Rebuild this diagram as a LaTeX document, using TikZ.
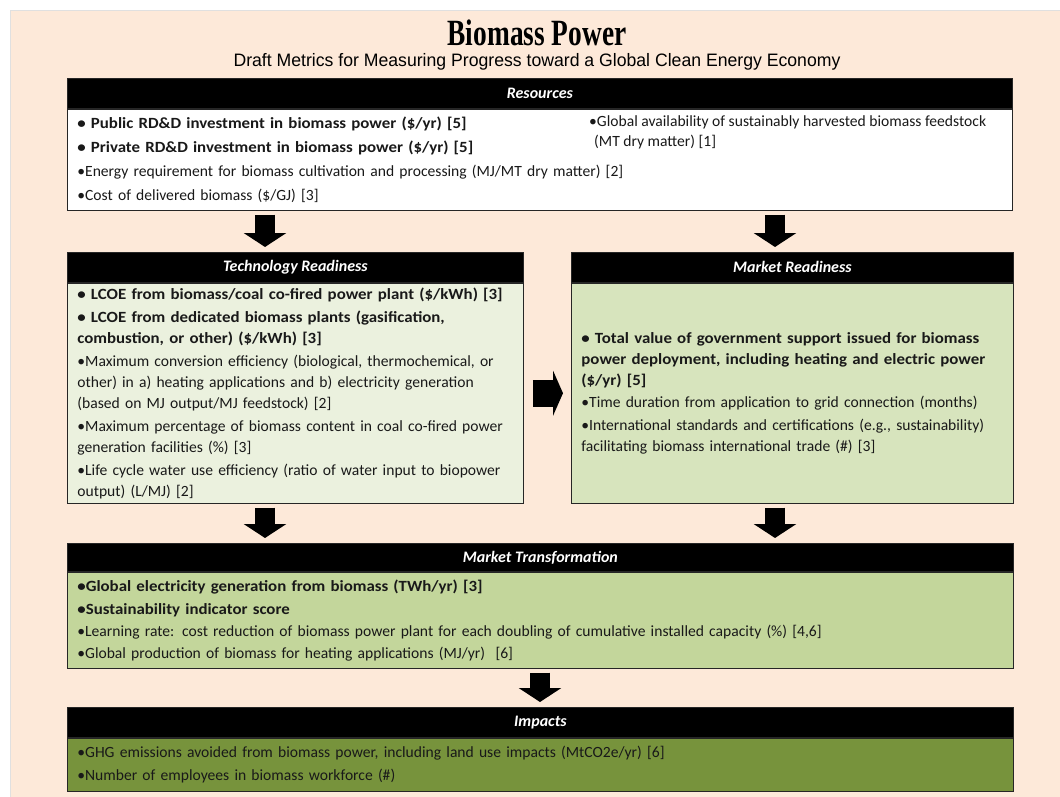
\documentclass[tikz,border=0pt]{standalone}
\usepackage{fontspec}
\setmainfont{Carlito}
\newfontfamily\itembf[FakeStretch=1.08]{Carlito}
\newfontfamily\titlefont[FakeStretch=0.74]{Liberation Serif}
\newfontfamily\subfont[FakeStretch=0.98]{Liberation Sans}
\newcommand{\bitem}[1]{{\itembf\bfseries #1}}
\usetikzlibrary{positioning,arrows.meta}
\definecolor{peach}{HTML}{FDE9D9}
\definecolor{techgreen}{HTML}{EBF1DE}
\definecolor{mrgreen}{HTML}{D7E4BD}
\definecolor{transgreen}{HTML}{C3D69B}
\definecolor{impgreen}{HTML}{77933C}
\tikzset{
  hdr/.style={draw=black!85, line width=0.8pt, fill=black, text=white, inner sep=0pt,
    minimum height=30pt, anchor=north west, font=\fontsize{16}{18}\selectfont\bfseries\itshape},
  panel/.style={draw=black!85, line width=0.8pt, inner xsep=10pt, inner ysep=2pt, align=left,
    anchor=north, text=black!90, font=\fontsize{15.6}{21}\selectfont},
  downarrow/.style={line width=20pt, -{Triangle[length=14pt, width=42pt]}, shorten <=4pt, shorten >=5pt},
  rightarrow/.style={line width=27pt, -{Triangle[length=10pt, width=45pt]}, shorten <=9pt, shorten >=8pt}
}
\begin{document}
\begin{tikzpicture}[x=1pt, y=-1pt]
  \useasboundingbox (0,0) rectangle (1060,797);
  \fill[white] (0,0) rectangle (1060,797);
  \fill[peach] (10,10) rectangle (1060,797);
  \draw[black!12] (10,797) |- (1060,10);

  % title
  \node (title) at (537,33) {\titlefont\bfseries\fontsize{37}{40}\selectfont Biomass Power};
  \node (subtitle) at (537,62) {\subfont\fontsize{18}{20}\selectfont Draft Metrics for Measuring Progress toward a Global Clean Energy Economy};

  % resources
  \node[hdr, minimum width=945pt] (resH) at (67,78) {Resources};
  \node[panel, fill=white, text width=925pt, minimum height=101pt, below=0pt of resH] (res) {%
    \bitem{• Public RD\&D investment in biomass power (\$/yr) [5]}\\[3pt]
    \bitem{• Private RD\&D investment in biomass power (\$/yr) [5]}\\[3pt]
    •Energy requirement for biomass cultivation and processing (MJ/MT dry matter) [2]\\[3pt]
    •Cost of delivered biomass (\$/GJ) [3]};
  \node[align=left, anchor=north west, inner sep=0pt, text=black!90,
    font=\fontsize{15.6}{20}\selectfont] (resR) at (589,115)
    {•Global availability of sustainably harvested biomass feedstock\\
     \hspace*{5pt}(MT dry matter) [1]};

  % technology readiness
  \node[hdr, minimum width=456pt] (techH) at (67,252) {Technology Readiness};
  \node[panel, fill=techgreen, text width=436pt, minimum height=220pt, below=0pt of techH] (tech) {%
    \bitem{• LCOE from biomass/coal co-fired power plant (\$/kWh) [3]}\\[2pt]
    \bitem{• LCOE from dedicated biomass plants (gasification,}\\
    \bitem{combustion, or other) (\$/kWh) [3]}\\[2pt]
    •Maximum conversion efficiency (biological, thermochemical, or\\
    other) in a) heating applications and b) electricity generation\\
    (based on MJ output/MJ feedstock) [2]\\[2pt]
    •Maximum percentage of biomass content in coal co-fired power\\
    generation facilities (\%) [3]\\[2pt]
    •Life cycle water use efficiency (ratio of water input to biopower\\
    output) (L/MJ) [2]};

  % market readiness
  \node[hdr, minimum width=442pt] (mrH) at (571,252) {Market Readiness};
  \node[panel, fill=mrgreen, text width=422pt, minimum height=220pt, below=0pt of mrH] (mr) {%
    \bitem{• Total value of government support issued for biomass}\\
    \bitem{power deployment, including heating and electric power}\\
    \bitem{(\$/yr) [5]}\\[1pt]
    •Time duration from application to grid connection (months)\\[2pt]
    •International standards and certifications (e.g., sustainability)\\
    facilitating biomass international trade (\#) [3]};

  % market transformation
  \node[hdr, minimum width=946pt, minimum height=28pt] (transH) at (67,543) {Market Transformation};
  \node[panel, fill=transgreen, text width=926pt, minimum height=96pt, below=0pt of transH] (trans) {%
    \bitem{•Global electricity generation from biomass (TWh/yr) [3]}\\[2pt]
    \bitem{•Sustainability indicator score}\\[1pt]
    •Learning rate: cost reduction of biomass power plant for each doubling of cumulative installed capacity (\%) [4,6]\\[1pt]
    •Global production of biomass for heating applications (MJ/yr) \ [6]};

  % impacts
  \node[hdr, minimum width=946pt] (impH) at (67,707) {Impacts};
  \node[panel, fill=impgreen, text width=926pt, minimum height=53pt, below=0pt of impH] (imp) {%
    •GHG emissions avoided from biomass power, including land use impacts (MtCO2e/yr) [6]\\[2pt]
    •Number of employees in biomass workforce (\#)};

  % arrows
  \coordinate (colL) at (265,0);
  \coordinate (colR) at (775,0);
  \coordinate (colM) at (540,0);
  \draw[downarrow] (res.south -| colL) -- (techH.north -| colL);
  \draw[downarrow] (res.south -| colR) -- (mrH.north -| colR);
  \draw[rightarrow] (tech.east) -- (mr.west);
  \draw[downarrow] (tech.south -| colL) -- (transH.north -| colL);
  \draw[downarrow] (mr.south -| colR) -- (transH.north -| colR);
  \draw[downarrow] (trans.south -| colM) -- (impH.north -| colM);
\end{tikzpicture}
\end{document}
